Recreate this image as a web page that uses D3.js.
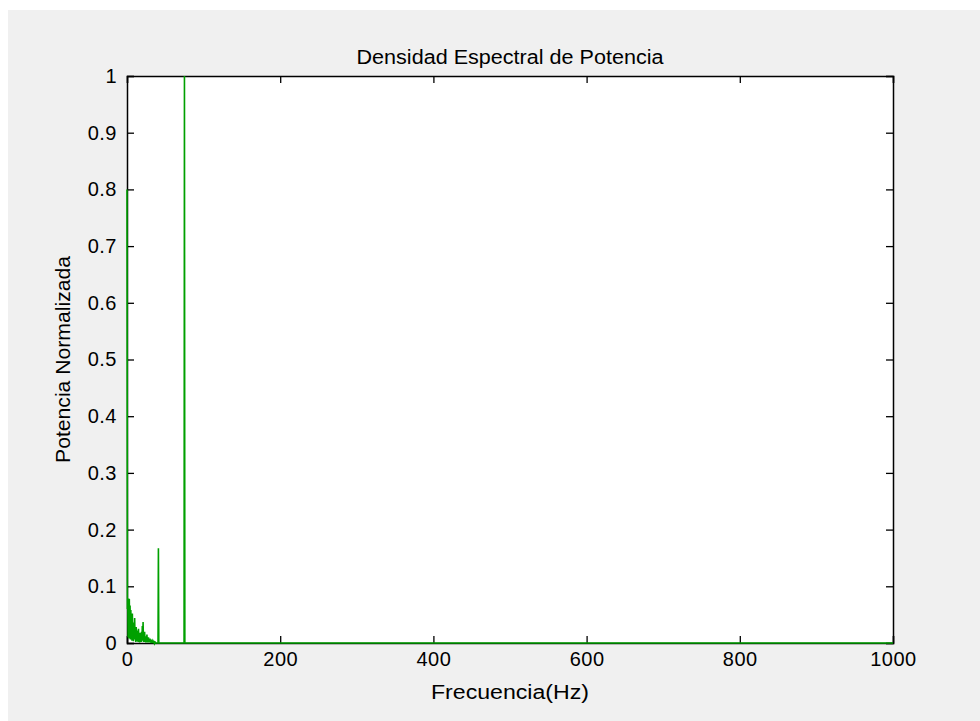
<!DOCTYPE html>
<html>
<head>
<meta charset="utf-8">
<script src="https://cdn.jsdelivr.net/npm/d3@7"></script>
<style>
  html, body { margin: 0; padding: 0; background: #ffffff; }
  svg { display: block; }
  text { font-family: "Liberation Sans", Arial, sans-serif; fill: #000; }
</style>
</head>
<body>
<svg id="chart" width="980" height="721"></svg>
<script>
// Normalised power spectral density (frequency in Hz, power 0..1)
const frecuencia = [
  0, 0.5, 1, 1.5, 2, 2.5, 3, 3.5, 4, 4.5,
  5, 5.5, 6, 6.5, 7, 7.5, 8, 8.5, 9, 9.5,
  10, 10.5, 11, 11.5, 12, 12.5, 13, 13.5, 14, 14.5,
  15, 15.5, 16, 16.5, 17, 17.5, 18, 18.5, 19, 19.5,
  20, 20.5, 21, 21.5, 22, 22.5, 23, 23.5, 24, 24.5,
  25, 25.5, 26, 26.5, 27, 27.5, 28, 28.5, 29, 29.5,
  30, 30.5, 31, 31.5, 32, 32.5, 33, 33.5, 34, 34.5,
  35, 35.5, 36, 36.5, 37, 37.5, 38, 39, 40,
  40.5, 41, 41.5, 74.5, 75, 75.5, 1000
];
const potencia = [
  0.800, 0.060, 0.079, 0.010, 0.074, 0.008, 0.078, 0.012, 0.066, 0.006,
  0.058, 0.010, 0.040, 0.004, 0.052, 0.009, 0.022, 0.003, 0.036, 0.006,
  0.044, 0.008, 0.016, 0.002, 0.028, 0.007, 0.022, 0.003, 0.012, 0.002,
  0.025, 0.004, 0.006, 0.001, 0.018, 0.003, 0.012, 0.002, 0.020, 0.004,
  0.030, 0.006, 0.037, 0.002, 0.010, 0.002, 0.020, 0.003, 0.012, 0.001,
  0.008, 0.001, 0.015, 0.002, 0.006, 0.001, 0.010, 0.001, 0.005, 0.001,
  0.008, 0.001, 0.004, 0.000, 0.006, 0.001, 0.003, 0.000, 0.004, 0.000,
  0.002, 0.000, 0.003, 0.000, 0.001, 0.000, 0.000, 0.000, 0.000,
  0.000, 0.167, 0.000, 0.000, 1.000, 0.000, 0.000
];
const xTicks = [0, 200, 400, 600, 800, 1000];
const yTicks = [0, 0.1, 0.2, 0.3, 0.4, 0.5, 0.6, 0.7, 0.8, 0.9, 1];

const titulo = "Densidad Espectral de Potencia";
const etiquetaX = "Frecuencia(Hz)";
const etiquetaY = "Potencia Normalizada";

const svg = d3.select("#chart");
const W = 980, H = 721;
const plot = { left: 127, right: 893, top: 76, bottom: 643 };

// figure background
svg.append("rect").attr("x", 8).attr("y", 10)
  .attr("width", W - 8).attr("height", H - 10).attr("fill", "#f0f0f0");

// axes area
svg.append("rect")
  .attr("x", plot.left).attr("y", plot.top)
  .attr("width", plot.right - plot.left).attr("height", plot.bottom - plot.top)
  .attr("fill", "#ffffff");

const x = d3.scaleLinear().domain([0, 1000]).range([plot.left, plot.right]);
const y = d3.scaleLinear().domain([0, 1]).range([plot.bottom, plot.top]);

const fmtY = d => d === 0 || d === 1 ? String(d) : d3.format(".1f")(d);
const fontSize = 20;

// bottom axis (ticks inside)
const gx = svg.append("g").attr("transform", `translate(0,${plot.bottom})`)
  .call(d3.axisBottom(x).tickValues(xTicks).tickSize(-7).tickPadding(9).tickFormat(d3.format("d")));
// top axis ticks only
const gxt = svg.append("g").attr("transform", `translate(0,${plot.top})`)
  .call(d3.axisTop(x).tickValues(xTicks).tickSize(-7).tickFormat(""));
// left axis
const gy = svg.append("g").attr("transform", `translate(${plot.left},0)`)
  .call(d3.axisLeft(y).tickValues(yTicks).tickSize(-7).tickPadding(10).tickFormat(fmtY));
// right axis ticks only
const gyr = svg.append("g").attr("transform", `translate(${plot.right},0)`)
  .call(d3.axisRight(y).tickValues(yTicks).tickSize(-7).tickFormat(""));

[gx, gxt, gy, gyr].forEach(g => {
  g.selectAll("path.domain").attr("stroke", "#000").attr("stroke-width", 1.5);
  g.selectAll(".tick line").attr("stroke", "#000").attr("stroke-width", 1.3);
  g.selectAll(".tick text")
    .style("font-family", '"Liberation Sans", Arial, sans-serif')
    .style("font-size", fontSize + "px").attr("fill", "#000")
    .attr("letter-spacing", "0.5px");
});

// spectrum line
const pts = frecuencia.map((f, i) => [f, potencia[i]]);
svg.append("path")
  .datum(pts)
  .attr("fill", "none")
  .attr("stroke", "#00a000")
  .attr("stroke-width", 1.6)
  .attr("stroke-linejoin", "miter")
  .attr("d", d3.line().x(d => x(d[0])).y(d => y(d[1])));

// title and axis labels
svg.append("text")
  .attr("x", (plot.left + plot.right) / 2).attr("y", 64)
  .attr("text-anchor", "middle").style("font-size", fontSize + "px")
  .attr("textLength", 307).attr("lengthAdjust", "spacingAndGlyphs")
  .text(titulo);

svg.append("text")
  .attr("x", (plot.left + plot.right) / 2).attr("y", 699)
  .attr("text-anchor", "middle").style("font-size", fontSize + "px")
  .attr("textLength", 158).attr("lengthAdjust", "spacingAndGlyphs")
  .text(etiquetaX);

svg.append("text")
  .attr("transform", `translate(70,${(plot.top + plot.bottom) / 2}) rotate(-90)`)
  .attr("text-anchor", "middle").style("font-size", fontSize + "px")
  .attr("textLength", 207).attr("lengthAdjust", "spacingAndGlyphs")
  .text(etiquetaY);
</script>
</body>
</html>
